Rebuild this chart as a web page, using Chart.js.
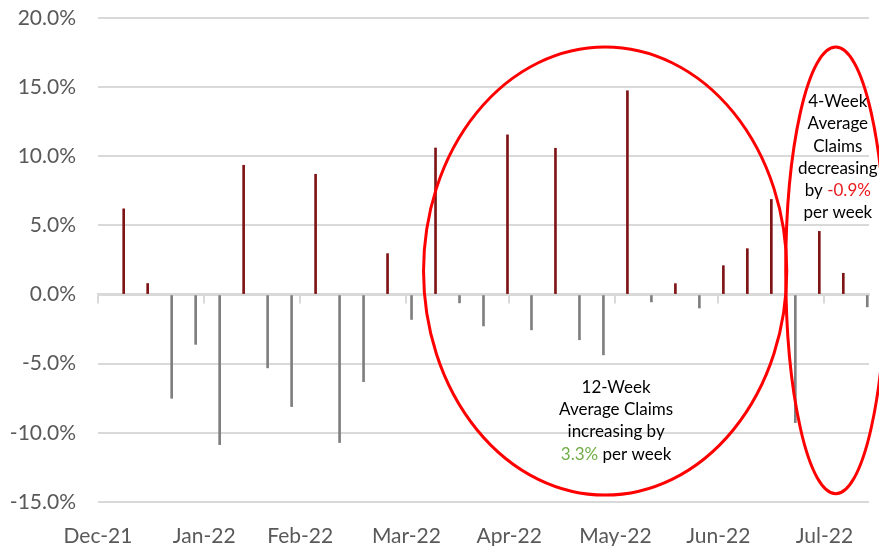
<!DOCTYPE html>
<html>
<head>
<meta charset="utf-8">
<script src="https://cdn.jsdelivr.net/npm/chart.js@4.4.1/dist/chart.umd.min.js"></script>
<style>
  html, body { margin: 0; padding: 0; background: #ffffff; }
  #wrap { width: 879px; height: 546px; }
</style>
</head>
<body>
<div id="wrap"><canvas id="chart" width="879" height="546"></canvas></div>
<script>
// Week-over-week % change in initial jobless claims
const axisStart = '2021-12-31';
const axisEnd = '2022-08-13';

const weekDates = [
  '2022-01-07', '2022-01-14', '2022-01-21', '2022-01-28',
  '2022-02-04', '2022-02-11', '2022-02-18', '2022-02-25',
  '2022-03-04', '2022-03-11', '2022-03-18', '2022-03-25',
  '2022-04-01', '2022-04-08', '2022-04-15', '2022-04-22', '2022-04-29',
  '2022-05-06', '2022-05-13', '2022-05-20', '2022-05-27',
  '2022-06-03', '2022-06-10', '2022-06-17', '2022-06-24',
  '2022-07-01', '2022-07-08', '2022-07-15', '2022-07-22', '2022-07-29',
  '2022-08-05', '2022-08-12'
];

const weeklyChange = [
  6.2, 0.8, -7.5, -3.6,
  -10.85, 9.35, -5.3, -8.1,
  8.7, -10.7, -6.3, 2.96,
  -1.8, 10.6, -0.6, -2.27, 11.55,
  -2.55, 10.58, -3.27, -4.36,
  14.74, -0.53, 0.79, -0.97,
  2.09, 3.32, 6.88, -9.26, 4.57,
  1.54, -0.89
];

const monthTickDates = [
  '2021-12-31', '2022-01-31', '2022-02-28', '2022-03-31',
  '2022-04-30', '2022-05-31', '2022-06-30', '2022-07-31'
];
const monthTickLabels = ['Dec-21', 'Jan-22', 'Feb-22', 'Mar-22', 'Apr-22', 'May-22', 'Jun-22', 'Jul-22'];

const yMin = -15;
const yMax = 20;
const yStep = 5;

// Callout text: each line is a list of [text, colour] runs
const longNoteLines = [
  [['12-Week', '#000000']],
  [['Average Claims', '#000000']],
  [['increasing by', '#000000']],
  [['3.3%', '#70ad47'], [' per week', '#000000']]
];
const shortNoteLines = [
  [['4-Week', '#000000']],
  [['Average', '#000000']],
  [['Claims', '#000000']],
  [['decreasing', '#000000']],
  [['by ', '#000000'], ['-0.9%', '#e8191b']],
  [['per week', '#000000']]
];

// ---- helpers and styling ----
const MS_DAY = 86400000;
const dayOf = s => Math.round((Date.parse(s) - Date.parse(axisStart)) / MS_DAY);

const FONT = 'Lato, "Liberation Sans", sans-serif';
const GRID = '#d9d9d9';
const POS_COLOR = '#7f1416';
const NEG_COLOR = '#7f7f7f';

const setMonthTicks = scale => {
  scale.ticks = monthTickDates.map(d => ({ value: dayOf(d) }));
};

// ellipse callouts, bounds given in axis units (days, %)
const ellipses = [
  { x0: 95.0, x1: 201.0, yTop: 17.9, yBottom: -14.5 },
  { x0: 200.7, x1: 229.9, yTop: 17.9, yBottom: -14.4 }
];
const notes = [
  { lines: longNoteLines, x: 151.2, y: -6.72 },
  { lines: shortNoteLines, x: 215.9, y: 13.95 }
];

const calloutPlugin = {
  id: 'callouts',
  afterDraw(chart) {
    const { ctx } = chart;
    const x = chart.scales.x;
    const y = chart.scales.y;
    ctx.save();
    ctx.strokeStyle = '#ff0000';
    ctx.lineWidth = 3;
    for (const e of ellipses) {
      const l = x.getPixelForValue(e.x0);
      const r = x.getPixelForValue(e.x1);
      const t = y.getPixelForValue(e.yTop);
      const b = y.getPixelForValue(e.yBottom);
      ctx.beginPath();
      ctx.ellipse((l + r) / 2, (t + b) / 2, (r - l) / 2, (b - t) / 2, 0, 0, Math.PI * 2);
      ctx.stroke();
    }
    ctx.font = '17px ' + FONT;
    ctx.textBaseline = 'middle';
    ctx.textAlign = 'left';
    const lineGap = 22.2;
    for (const n of notes) {
      const cx = x.getPixelForValue(n.x);
      let cy = y.getPixelForValue(n.y);
      for (const line of n.lines) {
        const total = line.reduce((w, run) => w + ctx.measureText(run[0]).width, 0);
        let px = cx - total / 2;
        for (const [text, color] of line) {
          ctx.fillStyle = color;
          ctx.fillText(text, px, cy);
          px += ctx.measureText(text).width;
        }
        cy += lineGap;
      }
    }
    ctx.restore();
  }
};

new Chart(document.getElementById('chart'), {
  type: 'bar',
  data: {
    datasets: [{
      data: weekDates.map((d, i) => ({ x: dayOf(d) + 0.5, y: weeklyChange[i] })),
      backgroundColor: c => (c.raw && c.raw.y >= 0 ? POS_COLOR : NEG_COLOR),
      borderWidth: 0,
      barThickness: 2
    }]
  },
  options: {
    responsive: false,
    devicePixelRatio: 1,
    animation: false,
    layout: { padding: { top: 0, right: 10, left: 0, bottom: 0 } },
    plugins: { legend: { display: false }, tooltip: { enabled: false } },
    scales: {
      x: {
        type: 'linear',
        position: 'bottom',
        offset: false,
        min: 0,
        max: dayOf(axisEnd),
        afterBuildTicks: setMonthTicks,
        afterFit: s => { s.height = 44; },
        grid: { display: false, offset: false },
        border: { display: false },
        ticks: {
          autoSkip: false,
          maxRotation: 0,
          padding: 14,
          color: '#595959',
          font: { family: FONT, size: 21 },
          callback: (v, i) => monthTickLabels[i]
        }
      },
      x0: {
        type: 'linear',
        position: { y: 0 },
        offset: false,
        min: 0,
        max: dayOf(axisEnd),
        afterBuildTicks: setMonthTicks,
        grid: { offset: false, drawOnChartArea: false, drawTicks: true, tickLength: 8, color: GRID, lineWidth: 2 },
        border: { display: true, color: GRID, width: 2.5 },
        ticks: { display: false }
      },
      y: {
        min: yMin,
        max: yMax,
        afterFit: s => { s.width = 98; s.paddingTop = 18; s.paddingBottom = 0; },
        grid: { color: GRID, lineWidth: 2, drawTicks: false },
        border: { display: false },
        ticks: {
          stepSize: yStep,
          padding: 22,
          color: '#595959',
          font: { family: FONT, size: 21 },
          callback: v => v.toFixed(1) + '%'
        }
      }
    }
  },
  plugins: [calloutPlugin]
});
</script>
</body>
</html>
